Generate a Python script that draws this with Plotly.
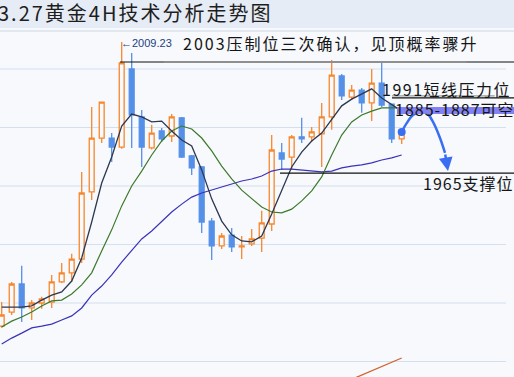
import plotly.graph_objects as go

# ---- data ----
idx = list(range(41))
open_ = [1912.1, 1916.9, 1926.5, 1918.3, 1920.0, 1920.3, 1927.2, 1930.3, 1935.0, 1958.0,
         1976.4, 1976.4, 1973.3, 2000.0, 1983.6, 1973.0, 1978.8, 1977.1, 1983.3, 1970.3,
         1966.5, 1948.0, 1939.5, 1943.2, 1939.2, 1940.2, 1942.2, 1947.0, 1971.3, 1969.9,
         1976.8, 1976.8, 1977.8, 1983.6, 1997.6, 1990.4, 1992.8, 1988.4, 1995.2, 1988.0,
         1976.1]
high = [1920.3, 1927.2, 1932.7, 1921.0, 1922.1, 1929.6, 1933.7, 1936.8, 1964.8, 1987.0,
        1988.7, 1978.1, 2009.23, 2005.5, 1986.0, 1980.9, 1979.8, 1984.6, 1983.6, 1970.6,
        1966.8, 1949.1, 1943.9, 1945.6, 1942.9, 1945.3, 1951.5, 1977.4, 1974.7, 1977.4,
        1983.3, 1980.2, 1988.4, 2003.1, 1998.3, 1994.5, 1993.5, 2000.0, 2002.7, 1988.0,
        1978.1]
low = [1911.5, 1915.9, 1913.5, 1914.2, 1918.0, 1918.3, 1926.8, 1927.2, 1933.7, 1955.2,
       1974.7, 1968.2, 1972.7, 1973.0, 1966.5, 1972.5, 1975.0, 1975.0, 1969.6, 1963.8,
       1943.9, 1934.7, 1938.5, 1937.4, 1935.0, 1939.5, 1937.4, 1944.6, 1965.5, 1965.5,
       1974.7, 1975.0, 1966.5, 1979.2, 1989.4, 1989.4, 1985.0, 1982.2, 1987.0, 1974.7,
       1974.4]
close = [1915.9, 1926.5, 1918.3, 1920.0, 1921.4, 1927.2, 1930.3, 1935.0, 1957.6, 1976.4,
         1988.7, 1973.3, 2002.1, 1984.3, 1973.3, 1978.1, 1976.1, 1983.6, 1969.9, 1966.2,
         1947.7, 1939.5, 1942.9, 1939.2, 1939.5, 1941.9, 1947.4, 1972.3, 1969.2, 1976.8,
         1976.1, 1978.5, 1983.6, 1997.9, 1990.8, 1992.8, 1988.4, 1995.2, 1987.7, 1976.1,
         1977.8]
ma_short = [1918.6, 1918.6, 1918.6, 1919.0, 1921.0, 1922.7, 1923.8, 1927.5, 1935.4, 1947.7,
            1961.0, 1969.9, 1980.5, 1984.6, 1983.6, 1981.9, 1982.2, 1978.8, 1975.7, 1973.7,
            1965.5, 1955.6, 1948.0, 1943.3, 1941.2, 1940.9, 1942.9, 1950.4, 1958.6, 1966.5,
            1971.6, 1975.4, 1978.1, 1982.9, 1987.4, 1989.7, 1991.5, 1993.2, 1990.1, 1987.7,
            1985.6]
ma_mid = [1911.8, 1913.8, 1915.2, 1916.9, 1919.0, 1920.7, 1921.0, 1923.1, 1926.2, 1930.3,
          1937.8, 1945.0, 1953.2, 1960.0, 1965.1, 1970.6, 1975.4, 1978.8, 1980.5, 1979.5,
          1976.4, 1972.0, 1966.8, 1962.4, 1958.6, 1955.6, 1952.8, 1951.1, 1950.8, 1952.1,
          1954.9, 1958.3, 1963.1, 1970.6, 1977.4, 1981.9, 1984.3, 1985.6, 1986.7, 1986.7,
          1986.7]
ma_long = [1906.0, 1908.0, 1909.7, 1911.5, 1912.1, 1912.8, 1914.2, 1915.6, 1918.3, 1922.7,
           1925.8, 1929.6, 1934.0, 1938.1, 1941.9, 1944.6, 1947.7, 1951.1, 1953.8, 1956.2,
           1957.6, 1958.6, 1959.7, 1960.7, 1961.7, 1962.4, 1963.4, 1965.1, 1965.8, 1965.8,
           1965.5, 1965.1, 1964.8, 1965.1, 1966.2, 1966.8, 1967.2, 1967.9, 1968.9, 1969.6,
           1970.6]
lower_x = [35, 40]
lower_y = [1893.9, 1901.2]

grid_levels = [1900, 1920, 1940, 1960, 1980, 2000]
level_top = 2002.4      # 2003 压制位
level_res = 1990.1      # 1991 短线压力位
band_lo, band_hi = 1984.6, 1987.0
level_sup = 1964.4      # 1965 支撑位
peak_label = "2009.23"

arrow_x = [40.0, 40.5, 41.13, 41.83, 42.5, 43.13, 43.83, 44.33]
arrow_y = [1978.5, 1981.5, 1984.3, 1985.3, 1985.0, 1981.9, 1976.4, 1971.3]
arrow_tip = (44.63, 1965.1)

title = "3.27黄金4H技术分析走势图"
note_top = "2003压制位三次确认，见顶概率骤升"
note_res = "1991短线压力位"
note_band = "1885-1887可空"
note_sup = "1965支撑位"

# ---- figure ----
W, H = 514, 377
X0, X1 = -0.17, 51.23
Y0, Y1 = 1894.70, 2023.59
BG = "#f7f9fd"
CJK = "Noto Sans CJK SC"

fig = go.Figure()

fig.add_trace(go.Scatter(x=idx, y=ma_long, mode="lines",
                         line=dict(color="#3a32b8", width=1.2), hoverinfo="skip"))
fig.add_trace(go.Scatter(x=idx, y=ma_mid, mode="lines",
                         line=dict(color="#3c7a2a", width=1.2), hoverinfo="skip"))
fig.add_trace(go.Candlestick(
    x=idx, open=open_, high=high, low=low, close=close,
    increasing=dict(line=dict(color="#f7872b", width=1.3), fillcolor=BG),
    decreasing=dict(line=dict(color="#5590e8", width=1.3), fillcolor="#5590e8"),
    whiskerwidth=0, hoverinfo="skip"))
fig.add_trace(go.Scatter(x=idx, y=ma_short, mode="lines",
                         line=dict(color="#2c3850", width=1.3), hoverinfo="skip"))
fig.add_trace(go.Scatter(x=lower_x, y=lower_y, mode="lines",
                         line=dict(color="#d2632b", width=1.3), hoverinfo="skip"))

# level lines
def hline(x_start, y, color="#111111", width=1.2, x_end=X1):
    fig.add_shape(type="line", xref="x", yref="y", x0=x_start, x1=x_end, y0=y, y1=y,
                  line=dict(color=color, width=width), layer="above")

hline(11.83, level_top)
hline(16.2, level_top, color="#8f8f8f", width=1.8, x_end=46.5)
hline(39.03, level_res)
hline(39.03, level_res + 0.7, color="#9a9a9a", width=1.2, x_end=49.3)
hline(27.83, level_sup)
fig.add_shape(type="rect", xref="x", yref="y", x0=39.53, x1=X1, y0=band_lo, y1=band_hi,
              fillcolor="#8282f2", line=dict(width=0), layer="above")

# gridlines
for g in grid_levels:
    fig.add_shape(type="line", xref="x", yref="y", x0=X0, x1=50.43, y0=g, y1=g,
                  line=dict(color="#d3e0ef", width=1.2), layer="below")

# title bar
fig.add_shape(type="rect", xref="paper", yref="paper", x0=0, x1=1, y0=1 - 28 / H, y1=1,
              fillcolor="#e6ecf5", line=dict(width=0), layer="below")
fig.add_shape(type="line", xref="paper", yref="paper", x0=0, x1=1, y0=1 - 31 / H, y1=1 - 31 / H,
              line=dict(color="#cdd7e4", width=1), layer="below")

# arrow path
fig.add_trace(go.Scatter(x=arrow_x, y=arrow_y, mode="lines",
                         line=dict(color="#3a6ef2", width=2.5, shape="spline"), hoverinfo="skip"))
fig.add_trace(go.Scatter(x=[arrow_x[0]], y=[arrow_y[0]], mode="markers",
                         marker=dict(color="#3a6ef2", size=8), hoverinfo="skip"))
fig.add_annotation(x=arrow_tip[0], y=arrow_tip[1], ax=arrow_x[-1], ay=arrow_y[-1],
                   xref="x", yref="y", axref="x", ayref="y", text="",
                   showarrow=True, arrowhead=2, arrowsize=1.1, arrowwidth=2.5,
                   arrowcolor="#3a6ef2")

def px_text(text, x, y, size, color="#151515", family=CJK, spacing=0):
    if spacing:
        text = f'<span style="letter-spacing:{spacing}px">{text}</span>'
    fig.add_annotation(x=x / W, y=1 - y / H, xref="paper", yref="paper", text=text,
                       showarrow=False, xanchor="left", yanchor="middle",
                       font=dict(family=family, size=size, color=color), borderpad=0)

px_text(title, -3, 13, 20, color="#1e1e1e", spacing=2)
px_text("←" + peak_label, 120, 43, 11, color="#23407f", family="Liberation Sans, Arial")
px_text(note_top, 182, 43, 16, spacing=2)
px_text(note_res, 381, 89, 16, spacing=1.5)
px_text(note_band, 394, 109, 16, spacing=1)
px_text(note_sup, 422, 183, 16, spacing=1)

fig.update_layout(
    width=W, height=H, margin=dict(l=0, r=0, t=0, b=0),
    paper_bgcolor=BG, plot_bgcolor=BG, showlegend=False,
    xaxis=dict(range=[X0, X1], visible=False, rangeslider=dict(visible=False), fixedrange=True),
    yaxis=dict(range=[Y0, Y1], visible=False, fixedrange=True),
    hovermode=False,
)

fig.write_html("out.html", config={"displayModeBar": False},
               post_script="document.body.style.margin='0';")
